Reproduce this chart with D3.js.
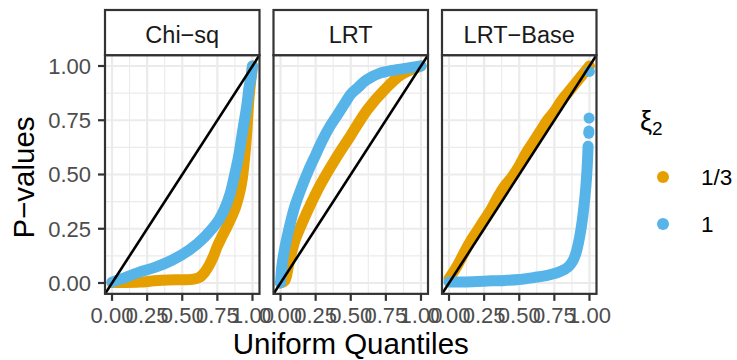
<!DOCTYPE html>
<html><head><meta charset="utf-8">
<script src="https://cdn.jsdelivr.net/npm/d3@7"></script>
<style>body{margin:0;background:#fff} text{font-family:"Liberation Sans",Arial,Helvetica,sans-serif}</style>
</head><body><svg id="c" width="737" height="360"></svg>
<script>
// ---- data ----
const facets = ["Chi\u2212sq", "LRT", "LRT\u2212Base"];
const groups = ["1/3", "1"];
const tickValues = [0, 0.25, 0.5, 0.75, 1];
const tickLabels = ["0.00", "0.25", "0.50", "0.75", "1.00"];
const minorValues = [0.125, 0.375, 0.625, 0.875];

// [uniform quantile, p-value]
const chisqThird = [[0,0.002],[0.1,0.002],[0.2,0.004],[0.3,0.01],[0.4,0.014],[0.5,0.015],[0.58,0.018],[0.62,0.025],[0.66,0.05],[0.69,0.08],[0.72,0.12],[0.75,0.17],[0.78,0.21],[0.83,0.275],[0.88,0.35],[0.91,0.42],[0.925,0.47],[0.94,0.55],[0.96,0.7],[0.975,0.85],[1,1]];
const chisqOne = [[0,0.004],[0.07,0.02],[0.19,0.049],[0.31,0.073],[0.43,0.106],[0.55,0.152],[0.66,0.213],[0.76,0.29],[0.8,0.34],[0.84,0.41],[0.87,0.49],[0.9,0.58],[0.93,0.7],[0.96,0.82],[0.975,0.9],[0.99,0.95],[1,1]];
const lrtThird = [[0,0],[0.03,0.01],[0.06,0.09],[0.1,0.19],[0.15,0.27],[0.22,0.37],[0.29,0.46],[0.39,0.57],[0.5,0.68],[0.62,0.8],[0.74,0.89],[0.86,0.96],[1,1]];
const lrtOne = [[0,0],[0.01,0.08],[0.03,0.16],[0.06,0.25],[0.1,0.35],[0.15,0.44],[0.2,0.52],[0.25,0.59],[0.3,0.66],[0.35,0.72],[0.4,0.77],[0.45,0.82],[0.5,0.87],[0.55,0.9],[0.6,0.93],[0.65,0.95],[0.7,0.965],[0.8,0.98],[0.9,0.99],[1,1]];
const baseThird = [[0,0.02],[0.05,0.07],[0.1,0.13],[0.15,0.19],[0.2,0.24],[0.25,0.29],[0.3,0.34],[0.35,0.4],[0.4,0.45],[0.45,0.49],[0.5,0.54],[0.55,0.6],[0.6,0.65],[0.65,0.7],[0.7,0.75],[0.75,0.79],[0.8,0.84],[0.85,0.88],[0.9,0.92],[0.95,0.96],[1,1]];
const baseOne = [[0,0.005],[0.1,0.005],[0.2,0.007],[0.3,0.01],[0.4,0.012],[0.5,0.016],[0.6,0.025],[0.7,0.035],[0.8,0.055],[0.85,0.075],[0.88,0.1],[0.9,0.13],[0.92,0.18],[0.94,0.25],[0.96,0.35],[0.975,0.45],[0.985,0.55],[0.99,0.63]];
const baseOneTail = [[0.995,0.69],[0.996,0.70],[0.997,0.76],[0.999,0.975]];

const panelSeries = [
  [chisqThird, chisqOne, []],
  [lrtThird, lrtOne, []],
  [baseThird, baseOne, baseOneTail]
];

// ---- layout / style ----
const colors = ["#E69F00", "#56B4E9"];
const svg = d3.select("#c");
const W = 154.5, gap = 14, left0 = 105;
const pTop = 55.15, pBottom = 293.85, stripTop = 10;
const y = d3.scaleLinear().domain([-0.05, 1.05]).range([pBottom, pTop]);
const gridCol = "#EBEBEB", darkCol = "#333333", tickTxt = "#4D4D4D";

facets.forEach((f, i) => {
  const x0 = left0 + i * (W + gap);
  const x = d3.scaleLinear().domain([-0.05, 1.05]).range([x0, x0 + W]);
  const g = svg.append("g");
  g.append("rect").attr("x", x0).attr("y", pTop).attr("width", W).attr("height", pBottom - pTop).attr("fill", "#fff");
  minorValues.forEach(v => {
    g.append("line").attr("x1", x(v)).attr("x2", x(v)).attr("y1", pTop).attr("y2", pBottom).attr("stroke", gridCol).attr("stroke-width", 1.1);
    g.append("line").attr("x1", x0).attr("x2", x0 + W).attr("y1", y(v)).attr("y2", y(v)).attr("stroke", gridCol).attr("stroke-width", 1.1);
  });
  tickValues.forEach(v => {
    g.append("line").attr("x1", x(v)).attr("x2", x(v)).attr("y1", pTop).attr("y2", pBottom).attr("stroke", gridCol).attr("stroke-width", 2.2);
    g.append("line").attr("x1", x0).attr("x2", x0 + W).attr("y1", y(v)).attr("y2", y(v)).attr("stroke", gridCol).attr("stroke-width", 2.2);
  });
  const clipId = "clip" + i;
  svg.append("clipPath").attr("id", clipId).append("rect").attr("x", x0).attr("y", pTop).attr("width", W).attr("height", pBottom - pTop);
  const pg = g.append("g").attr("clip-path", `url(#${clipId})`);
  const line = d3.line().x(d => x(d[0])).y(d => y(d[1])).curve(d3.curveCatmullRom);
  const [s0, s1, tail] = panelSeries[i];
  [s0, s1].forEach((s, k) => {
    pg.append("path").attr("d", line(s)).attr("fill", "none").attr("stroke", colors[k])
      .attr("stroke-width", 11).attr("stroke-linecap", "round").attr("stroke-linejoin", "round");
  });
  pg.selectAll("circle.t").data(tail).enter().append("circle")
    .attr("cx", d => x(d[0])).attr("cy", d => y(d[1])).attr("r", 5.5).attr("fill", colors[1]);
  pg.append("line").attr("x1", x(-0.05)).attr("y1", y(-0.05)).attr("x2", x(1.05)).attr("y2", y(1.05))
    .attr("stroke", "#000").attr("stroke-width", 2.6);
  g.append("rect").attr("x", x0).attr("y", pTop).attr("width", W).attr("height", pBottom - pTop)
    .attr("fill", "none").attr("stroke", darkCol).attr("stroke-width", 2.2);
  g.append("rect").attr("x", x0).attr("y", stripTop).attr("width", W).attr("height", pTop - stripTop)
    .attr("fill", "#fff").attr("stroke", darkCol).attr("stroke-width", 2.2);
  g.append("text").attr("x", x0 + W / 2).attr("y", 42.5).attr("text-anchor", "middle")
    .attr("font-size", 23.5).attr("fill", "#1A1A1A").text(f);
  tickValues.forEach((v, j) => {
    g.append("line").attr("x1", x(v)).attr("x2", x(v)).attr("y1", pBottom).attr("y2", pBottom + 7).attr("stroke", darkCol).attr("stroke-width", 2.2);
    g.append("text").attr("x", x(v)).attr("y", 323).attr("text-anchor", "middle").attr("font-size", 22).attr("fill", tickTxt).text(tickLabels[j]);
  });
  if (i === 0) {
    tickValues.forEach((v, j) => {
      g.append("line").attr("x1", x0 - 7).attr("x2", x0).attr("y1", y(v)).attr("y2", y(v)).attr("stroke", darkCol).attr("stroke-width", 2.2);
      g.append("text").attr("x", x0 - 14).attr("y", y(v)).attr("dy", "0.36em").attr("text-anchor", "end").attr("font-size", 22).attr("fill", tickTxt).text(tickLabels[j]);
    });
  }
});

svg.append("text").attr("x", left0 + (3 * W + 2 * gap) / 2).attr("y", 353.5).attr("text-anchor", "middle")
  .attr("font-size", 29.5).attr("fill", "#000").text("Uniform Quantiles");
svg.append("text").attr("transform", `translate(34,${(pTop + pBottom) / 2 + 3}) rotate(-90)`).attr("text-anchor", "middle")
  .attr("font-size", 29.5).attr("fill", "#000").text("P\u2212values");

const lt = svg.append("text").attr("x", 640).attr("y", 130).attr("font-size", 27).attr("fill", "#000");
lt.append("tspan").text("\u03BE");
lt.append("tspan").attr("font-size", 19).attr("dy", 5).text("2");
groups.forEach((gname, k) => {
  const cy = 177 + k * 47;
  svg.append("circle").attr("cx", 663).attr("cy", cy).attr("r", 6).attr("fill", colors[k]);
  svg.append("text").attr("x", 701).attr("y", cy).attr("dy", "0.36em").attr("font-size", 22.5).attr("fill", "#000").text(gname);
});
</script></body></html>
